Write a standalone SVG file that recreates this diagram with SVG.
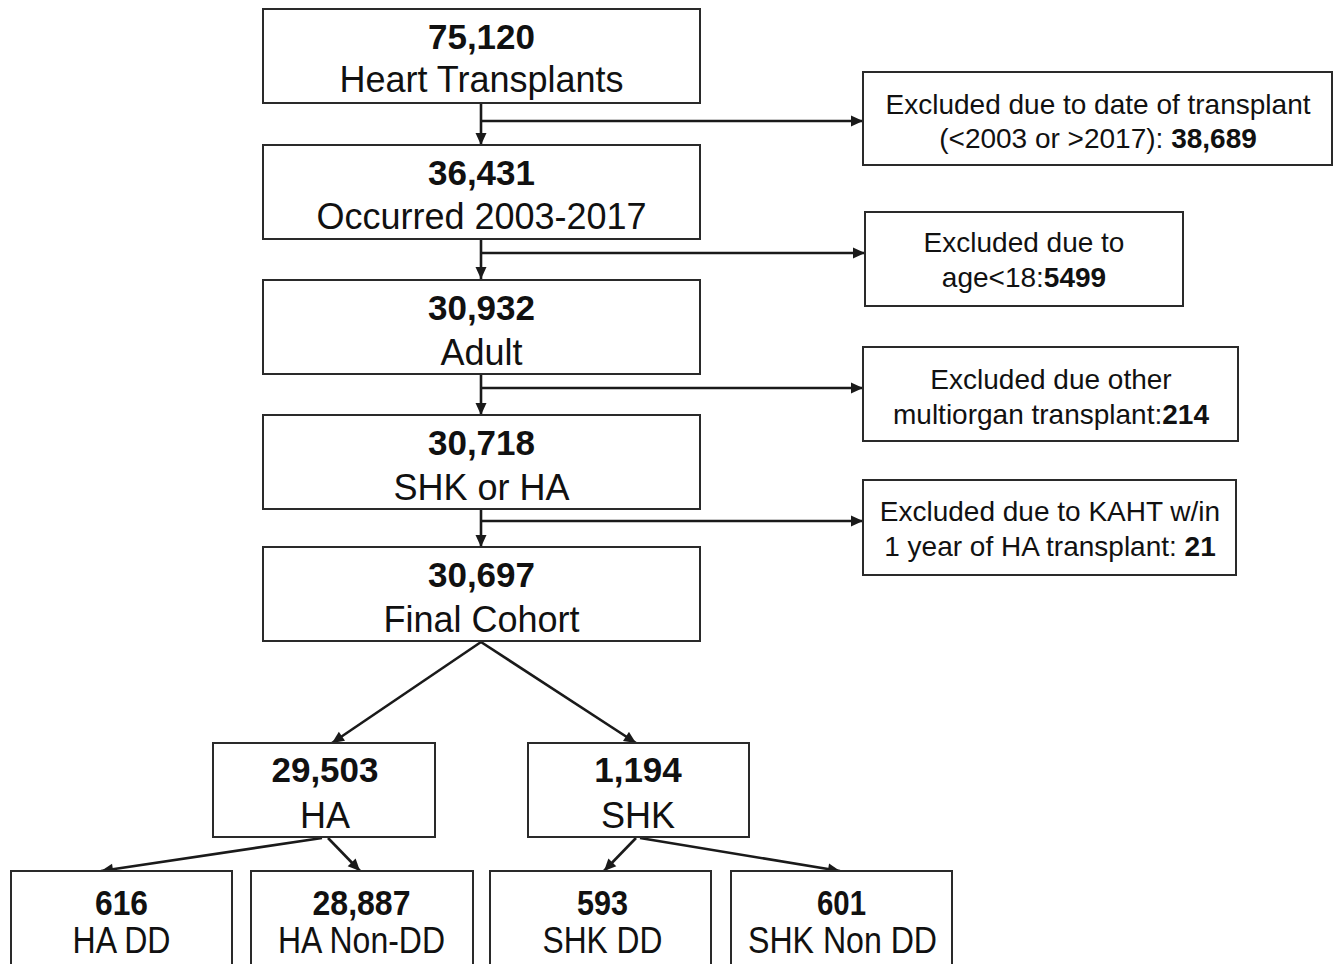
<svg xmlns="http://www.w3.org/2000/svg" width="1339" height="964" viewBox="0 0 1339 964">
<defs>
<marker id="ah" viewBox="0 0 12 12" refX="12" refY="6" markerWidth="13" markerHeight="12" markerUnits="userSpaceOnUse" orient="auto">
<path d="M0,0.5 L12,6 L0,11.5 z" fill="#1a1a1a"/>
</marker>
<style>
.box{fill:#fff;stroke:#2a2a2a;stroke-width:2}
.t{font-family:"Liberation Sans",Arial,sans-serif;fill:#111;text-anchor:middle}
.n{font-size:35px;font-weight:bold}
.l{font-size:36px}
.x{font-size:28px}
.b{font-weight:bold}
.c{fill:none;stroke:#1a1a1a;stroke-width:2.6}
</style>
</defs>
<rect width="1339" height="964" fill="#fff"/>
<g id="connectors">
<line class="c" x1="481" y1="103" x2="481" y2="145" marker-end="url(#ah)"/>
<line class="c" x1="481" y1="121" x2="863" y2="121" marker-end="url(#ah)"/>
<line class="c" x1="481" y1="239" x2="481" y2="279" marker-end="url(#ah)"/>
<line class="c" x1="481" y1="253" x2="865" y2="253" marker-end="url(#ah)"/>
<line class="c" x1="481" y1="374" x2="481" y2="415" marker-end="url(#ah)"/>
<line class="c" x1="481" y1="388" x2="863" y2="388" marker-end="url(#ah)"/>
<line class="c" x1="481" y1="509" x2="481" y2="547" marker-end="url(#ah)"/>
<line class="c" x1="481" y1="521" x2="863" y2="521" marker-end="url(#ah)"/>
<line class="c" x1="481" y1="642" x2="332" y2="743" marker-end="url(#ah)"/>
<line class="c" x1="481" y1="642" x2="636" y2="743" marker-end="url(#ah)"/>
<line class="c" x1="322" y1="838" x2="101" y2="871" marker-end="url(#ah)"/>
<line class="c" x1="328" y1="838" x2="360" y2="871" marker-end="url(#ah)"/>
<line class="c" x1="636" y1="838" x2="604" y2="871" marker-end="url(#ah)"/>
<line class="c" x1="640" y1="838" x2="840" y2="871" marker-end="url(#ah)"/>
</g>
<g id="n1"><rect class="box" x="263" y="9" width="437" height="94"/>
<text class="t n" x="481.5" y="49">75,120</text><text class="t l" x="481.5" y="92">Heart Transplants</text></g>
<g id="n2"><rect class="box" x="263" y="145" width="437" height="94"/>
<text class="t n" x="481.5" y="185">36,431</text><text class="t l" x="481.5" y="229">Occurred 2003-2017</text></g>
<g id="n3"><rect class="box" x="263" y="280" width="437" height="94"/>
<text class="t n" x="481.5" y="320">30,932</text><text class="t l" x="481.5" y="365">Adult</text></g>
<g id="n4"><rect class="box" x="263" y="415" width="437" height="94"/>
<text class="t n" x="481.5" y="455">30,718</text><text class="t l" x="481.5" y="500">SHK or HA</text></g>
<g id="n5"><rect class="box" x="263" y="547" width="437" height="94"/>
<text class="t n" x="481.5" y="587">30,697</text><text class="t l" x="481.5" y="632">Final Cohort</text></g>
<g id="e1"><rect class="box" x="863" y="72" width="469" height="93"/>
<text class="t x" x="1098" y="114">Excluded due to date of transplant</text>
<text class="t x" x="1098" y="148">(&lt;2003 or &gt;2017): <tspan class="b">38,689</tspan></text></g>
<g id="e2"><rect class="box" x="865" y="212" width="318" height="94"/>
<text class="t x" x="1024" y="252">Excluded due to</text>
<text class="t x" x="1024" y="287">age&lt;18:<tspan class="b">5499</tspan></text></g>
<g id="e3"><rect class="box" x="863" y="347" width="375" height="94"/>
<text class="t x" x="1051" y="389">Excluded due other</text>
<text class="t x" x="1051" y="424">multiorgan transplant:<tspan class="b">214</tspan></text></g>
<g id="e4"><rect class="box" x="863" y="480" width="373" height="95"/>
<text class="t x" x="1050" y="521">Excluded due to KAHT w/in</text>
<text class="t x" x="1050" y="556">1 year of HA transplant: <tspan class="b">21</tspan></text></g>
<g id="ha"><rect class="box" x="213" y="743" width="222" height="94"/>
<text class="t n" x="325" y="782">29,503</text><text class="t l" x="325" y="828">HA</text></g>
<g id="shk"><rect class="box" x="528" y="743" width="221" height="94"/>
<text class="t n" x="638" y="782">1,194</text><text class="t l" x="638" y="828">SHK</text></g>
<g id="hadd"><rect class="box" x="11" y="871" width="221" height="100"/>
<text class="t n" x="121.5" y="915" textLength="53" lengthAdjust="spacingAndGlyphs">616</text>
<text class="t l" x="121.5" y="953" textLength="98" lengthAdjust="spacingAndGlyphs">HA DD</text></g>
<g id="hanondd"><rect class="box" x="251" y="871" width="222" height="100"/>
<text class="t n" x="361.5" y="915" textLength="98" lengthAdjust="spacingAndGlyphs">28,887</text>
<text class="t l" x="361.5" y="953" textLength="167" lengthAdjust="spacingAndGlyphs">HA Non-DD</text></g>
<g id="shkdd"><rect class="box" x="490" y="871" width="221" height="100"/>
<text class="t n" x="602.5" y="915" textLength="51" lengthAdjust="spacingAndGlyphs">593</text>
<text class="t l" x="602.5" y="953" textLength="120" lengthAdjust="spacingAndGlyphs">SHK DD</text></g>
<g id="shknondd"><rect class="box" x="731" y="871" width="221" height="100"/>
<text class="t n" x="841.5" y="915" textLength="49" lengthAdjust="spacingAndGlyphs">601</text>
<text class="t l" x="842.5" y="953" textLength="189" lengthAdjust="spacingAndGlyphs">SHK Non DD</text></g>
</svg>
